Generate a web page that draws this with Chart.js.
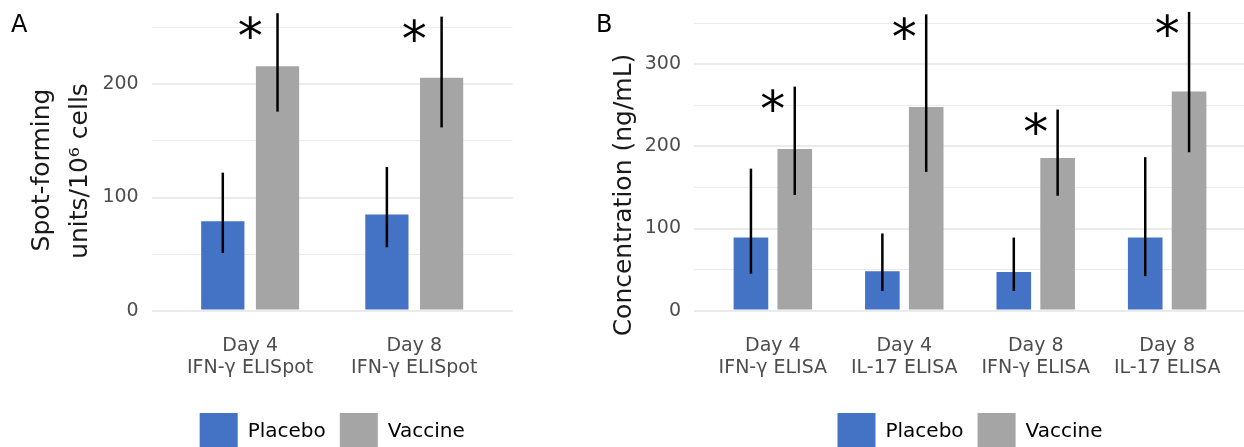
<!DOCTYPE html>
<html>
<head>
<meta charset="utf-8">
<script src="https://cdn.jsdelivr.net/npm/chart.js@4.4.0/dist/chart.umd.min.js"></script>
<style>
  html, body { margin: 0; padding: 0; background: #fff; overflow: hidden; width: 1244px; height: 447px; }
  .panel { position: absolute; top: 0; }
  #panelA { left: 0; }
  #panelB { left: 580px; }
</style>
</head>
<body>
<div class="panel" id="panelA"><canvas id="chartA" width="580" height="470"></canvas></div>
<div class="panel" id="panelB"><canvas id="chartB" width="670" height="470"></canvas></div>
<script>
// panel A - ELISpot
var catsA = [['Day 4', 'IFN-γ ELISpot'], ['Day 8', 'IFN-γ ELISpot']];
var placeboA = [79, 85];
var placeboA_lo = [51, 56];
var placeboA_hi = [122, 127];
var vaccineA = [216, 206];
var vaccineA_lo = [176, 162];
var vaccineA_hi = [263, 260];
var starsA = ['*', '*'];

// panel B - ELISA
var catsB = [['Day 4', 'IFN-γ ELISA'], ['Day 4', 'IL-17 ELISA'], ['Day 8', 'IFN-γ ELISA'], ['Day 8', 'IL-17 ELISA']];
var placeboB = [89, 48, 47, 89];
var placeboB_lo = [45, 24, 24, 42];
var placeboB_hi = [173, 94, 89, 187];
var vaccineB = [197, 248, 186, 267];
var vaccineB_lo = [141, 169, 140, 193];
var vaccineB_hi = [273, 361, 245, 364];
var starsB = ['*', '*', '*', '*'];

const FONT = 'DejaVu Sans';
const BLUE = '#4472c4';
const GREY = '#a5a5a5';

// error bars + significance stars
const errorBars = {
  id: 'errorBars',
  afterDatasetsDraw(chart, args, opts) {
    const ctx = chart.ctx;
    const y = chart.scales.y;
    const x = chart.scales.x;
    ctx.save();
    ctx.strokeStyle = '#000';
    ctx.lineWidth = 2.5;
    chart.data.datasets.forEach((ds, di) => {
      chart.getDatasetMeta(di).data.forEach((bar, i) => {
        ctx.beginPath();
        ctx.moveTo(bar.x, y.getPixelForValue(ds.lo[i]));
        ctx.lineTo(bar.x, y.getPixelForValue(ds.hi[i]));
        ctx.stroke();
      });
    });
    const top = chart.data.datasets[1].hi;
    ctx.fillStyle = '#000';
    ctx.font = '50px "' + FONT + '"';
    ctx.textAlign = 'center';
    ctx.textBaseline = 'alphabetic';
    opts.stars.forEach((s, i) => {
      if (!s) return;
      const m = ctx.measureText(s);
      const cy = y.getPixelForValue(top[i]) + 14;
      const base = cy + (m.actualBoundingBoxAscent - m.actualBoundingBoxDescent) / 2;
      ctx.fillText(s, x.getPixelForValue(i + 1), base);
    });
    ctx.restore();
  }
};

// panel letter + y axis title
const labels = {
  id: 'labels',
  afterDraw(chart, args, opts) {
    const ctx = chart.ctx;
    ctx.save();
    ctx.fillStyle = '#000';
    ctx.font = '24px "' + FONT + '"';
    ctx.textAlign = 'left';
    ctx.textBaseline = 'alphabetic';
    ctx.fillText(opts.letter, opts.letterX, 32);
    ctx.fillStyle = '#1a1a1a';
    ctx.font = '25px "' + FONT + '"';
    ctx.textAlign = 'center';
    ctx.textBaseline = 'middle';
    opts.titles.forEach(t => {
      ctx.save();
      ctx.translate(t.x, t.y);
      ctx.rotate(-Math.PI / 2);
      ctx.fillText(t.text, 0, 0);
      ctx.restore();
    });
    ctx.restore();
  }
};

function makeChart(id, cats, placebo, pLo, pHi, vaccine, vLo, vHi, stars, yMax, yWidth, padRight, letter, letterX, titles) {
  new Chart(id, {
    type: 'bar',
    data: {
      datasets: [{
        label: 'Placebo',
        data: placebo.map((v, i) => ({ x: i + 1, y: v })),
        lo: pLo, hi: pHi,
        backgroundColor: BLUE,
        borderWidth: 0,
        categoryPercentage: 0.667,
        barPercentage: 0.79
      }, {
        label: 'Vaccine',
        data: vaccine.map((v, i) => ({ x: i + 1, y: v })),
        lo: vLo, hi: vHi,
        backgroundColor: GREY,
        borderWidth: 0,
        categoryPercentage: 0.667,
        barPercentage: 0.79
      }]
    },
    options: {
      responsive: false,
      animation: false,
      layout: { padding: { top: 0, left: 0, right: padRight, bottom: 9 } },
      scales: {
        x: {
          type: 'linear',
          min: 0.4,
          max: cats.length + 0.6,
          offset: false,
          afterBuildTicks: s => { s.ticks = cats.map((c, i) => ({ value: i + 1 })); },
          afterFit: s => { s.height = 88.4; },
          ticks: {
            autoSkip: false,
            maxRotation: 0,
            padding: 16,
            color: '#4d4d4d',
            font: { family: FONT, size: 19, lineHeight: '22px' },
            callback: (v, i) => cats[i]
          },
          grid: { display: false },
          border: { display: false }
        },
        y: {
          min: 0,
          max: yMax,
          afterBuildTicks: s => { s.ticks = s.ticks.filter(t => t.value % 50 === 0); },
          afterFit: s => { s.width = yWidth; s.paddingTop = 0; s.paddingBottom = 0; },
          ticks: {
            stepSize: 50,
            padding: 13,
            color: '#4d4d4d',
            font: { family: FONT, size: 19 },
            callback: v => (v % 100 === 0 ? v : '')
          },
          grid: {
            drawTicks: false,
            color: '#ebebeb',
            lineWidth: c => (c.tick && c.tick.value % 100 === 0 ? 2 : 1)
          },
          border: { display: false }
        }
      },
      plugins: {
        legend: {
          position: 'bottom',
          fullSize: false,
          labels: {
            boxWidth: 38,
            boxHeight: 38,
            padding: 14,
            color: '#000',
            font: { family: FONT, size: 20 }
          }
        },
        tooltip: { enabled: false },
        errorBars: { stars: stars },
        labels: { letter: letter, letterX: letterX, titles: titles }
      }
    },
    plugins: [errorBars, labels]
  });
}

makeChart('chartA', catsA, placeboA, placeboA_lo, placeboA_hi, vaccineA, vaccineA_lo, vaccineA_hi, starsA,
  274.7, 151.7, 67.3, 'A', 11,
  [{ text: 'Spot-forming', x: 42, y: 170 }, { text: 'units/10\u2076 cells', x: 80, y: 171 }]);

makeChart('chartB', catsB, placeboB, placeboB_lo, placeboB_hi, vaccineB, vaccineB_lo, vaccineB_hi, starsB,
  378.5, 114, 4, 'B', 16,
  [{ text: 'Concentration (ng/mL)', x: 44, y: 195 }]);
</script>
</body>
</html>
